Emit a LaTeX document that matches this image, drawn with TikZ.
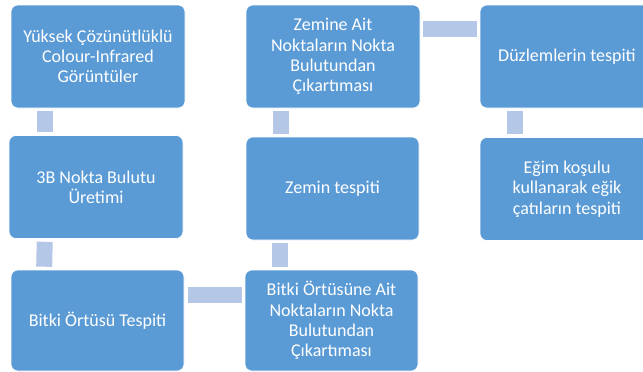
\documentclass[tikz,border=0pt]{standalone}
\usepackage{fontspec}
\setmainfont{Carlito}
\usetikzlibrary{calc}
\definecolor{boxblue}{HTML}{5B9BD5}
\definecolor{connblue}{HTML}{B4C7E7}
\tikzset{
  stepbox/.style={rectangle, rounded corners=7pt, fill=boxblue, draw=white, line width=0.6pt,
    minimum width=174pt, minimum height=103pt, inner sep=0pt, align=center, text=white,
    font=\fontsize{18}{20.3}\selectfont},
  conn/.style={draw=connblue, line width=16pt}
}
\begin{document}
\begin{tikzpicture}[x=1pt,y=-1pt]
\useasboundingbox (0,0) rectangle (643,372);
\begin{scope}
\clip (0,0) rectangle (643,372);
\node[stepbox] (b1) at (98,56.5) {Yüksek Çözünütlüklü\\Colour-Infrared\\Görüntüler};
\node[stepbox] (b2) at (96,187) {3B Nokta Bulutu\\Üretimi};
\node[stepbox, minimum width=173pt, minimum height=101pt] (b3) at (97.5,320.5) {Bitki Örtüsü Tespiti};
\node[stepbox, minimum width=173pt, minimum height=101pt] (b4) at (331.5,320.5) {Bitki Örtüsüne Ait\\Noktaların Nokta\\Bulutundan\\Çıkartıması};
\node[stepbox, minimum width=173pt] (b5) at (332.5,188.5) {Zemin tespiti};
\node[stepbox] (b6) at (333,56.5) {Zemine Ait\\Noktaların Nokta\\Bulutundan\\Çıkartıması};
\node[stepbox] (b7) at (567,56.5) {Düzlemlerin tespiti};
\node[stepbox] (b8) at (567,189) {Eğim koşulu\\kullanarak eğik\\çatıların tespiti};
\end{scope}
\draw[conn] ($(b1.south west)+(34,3)$) -- ($(b2.north west)+(36,-3)$);
\draw[conn] ($(b2.south west)+(36,3)$) -- ($(b3.north west)+(33.5,-3)$);
\draw[conn] ($(b3.north east)+(4,25)$) -- ($(b4.north west)+(-3,25)$);
\draw[conn] ($(b4.north west)+(35,-3)$) -- ($(b5.south west)+(34,3)$);
\draw[conn] ($(b5.north west)+(35,-3)$) -- ($(b6.south west)+(35,3)$);
\draw[conn] ($(b6.north east)+(3,24.5)$) -- ($(b7.north west)+(-3,24.5)$);
\draw[conn] ($(b7.south west)+(35,3)$) -- ($(b8.north west)+(35,-3)$);
\end{tikzpicture}
\end{document}
